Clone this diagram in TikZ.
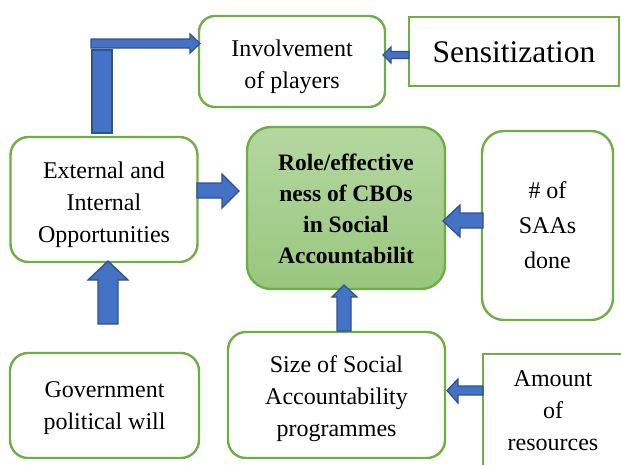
\documentclass[tikz,border=0pt]{standalone}
\usepackage{fontspec}
\setmainfont{Liberation Serif}
\definecolor{bgreen}{HTML}{70AD47}
\definecolor{ablue}{HTML}{4472C4}
\definecolor{aedge}{HTML}{2F528F}
\definecolor{gtop}{HTML}{B5D7A1}
\definecolor{gbot}{HTML}{98C77E}
\tikzset{
  rbox/.style={draw=bgreen, line width=2.4pt, rounded corners=18pt, inner sep=0pt},
  sbox/.style={draw=bgreen, line width=2.4pt, inner sep=0pt},
  txt/.style={align=center, inner sep=0pt, font=\fontsize{24}{32}\selectfont},
  blk/.style={fill=ablue, draw=aedge, line width=1.3pt, line join=miter},
}
\begin{document}
\begin{tikzpicture}[x=1pt,y=-1pt]
\useasboundingbox (0,0) rectangle (621,464);
% boxes
\node[rbox, minimum width=186pt, minimum height=91pt, rounded corners=16pt] (inv) at (292,61.5) {};
\node[txt] (invt) at ([yshift=-5pt]inv.center) {Involvement\\of players};
\node[sbox, minimum width=210pt, minimum height=69pt] (sen) at (514,51.5) {};
\node[txt, font=\fontsize{31.5}{36}\selectfont] (sent) at ([yshift=-1pt]sen.center) {Sensitization};
\node[rbox, minimum width=187pt, minimum height=125pt] (ext) at (104,199.5) {};
\node[txt] (extt) at ([yshift=-5pt]ext.center) {External and\\Internal\\Opportunities};
\node[rbox, minimum width=198pt, minimum height=162pt, rounded corners=24pt, top color=gtop, bottom color=gbot] (role) at (346,208) {};
\node[txt, font=\bfseries\fontsize{23.5}{31}\selectfont] (rolet) at ([yshift=-1pt]role.center) {Role/effective\\ness of CBOs\\in Social\\Accountabilit};
\node[rbox, minimum width=131pt, minimum height=189pt, rounded corners=22pt] (saa) at (547.5,225.5) {};
\node[txt, font=\fontsize{24}{35}\selectfont] (saat) at (saa.center) {\# of\\SAAs\\done};
\node[rbox, minimum width=189pt, minimum height=105pt] (gov) at (104.5,405.5) {};
\node[txt] (govt) at ([yshift=-3pt]gov.center) {Government\\political will};
\node[rbox, minimum width=217pt, minimum height=126pt] (size) at (336.5,395) {};
\node[txt] (sizet) at ([yshift=-4pt]size.center) {Size of Social\\Accountability\\programmes};
\begin{scope}
\clip (0,0) rectangle (621,464);
\draw[draw=bgreen, line width=2.4pt] (650,354) -- (483,354) -- (483,480);
\end{scope}
\node[txt] (amt) at (553,411) {Amount\\of\\resources};
% block arrows
\draw[blk] (92,50) rectangle (112,133);
\draw[blk] (91,39) -- (190,39) -- (190,34) -- (200,43.5) -- (190,53) -- (190,48) -- (91,48) -- cycle;
\draw[blk] (409,51.5) -- (391,51.5) -- (391,47) -- (383,55) -- (391,63) -- (391,58.5) -- (409,58.5) -- cycle;
\draw[blk] (197,183) -- (222,183) -- (222,174) -- (239,191) -- (222,208) -- (222,198) -- (197,198) -- cycle;
\draw[blk] (483,213) -- (460,213) -- (460,205) -- (443,221) -- (460,237) -- (460,228) -- (483,228) -- cycle;
\draw[blk] (98,324) -- (98,280) -- (88,280) -- (108,261) -- (128,280) -- (118,280) -- (118,324) -- cycle;
\draw[blk] (337,331) -- (337,297) -- (332,297) -- (344,285) -- (357,297) -- (351,297) -- (351,331) -- cycle;
\draw[blk] (483,386) -- (458,386) -- (458,379) -- (447,390.5) -- (458,403) -- (458,395) -- (483,395) -- cycle;
\end{tikzpicture}
\end{document}
